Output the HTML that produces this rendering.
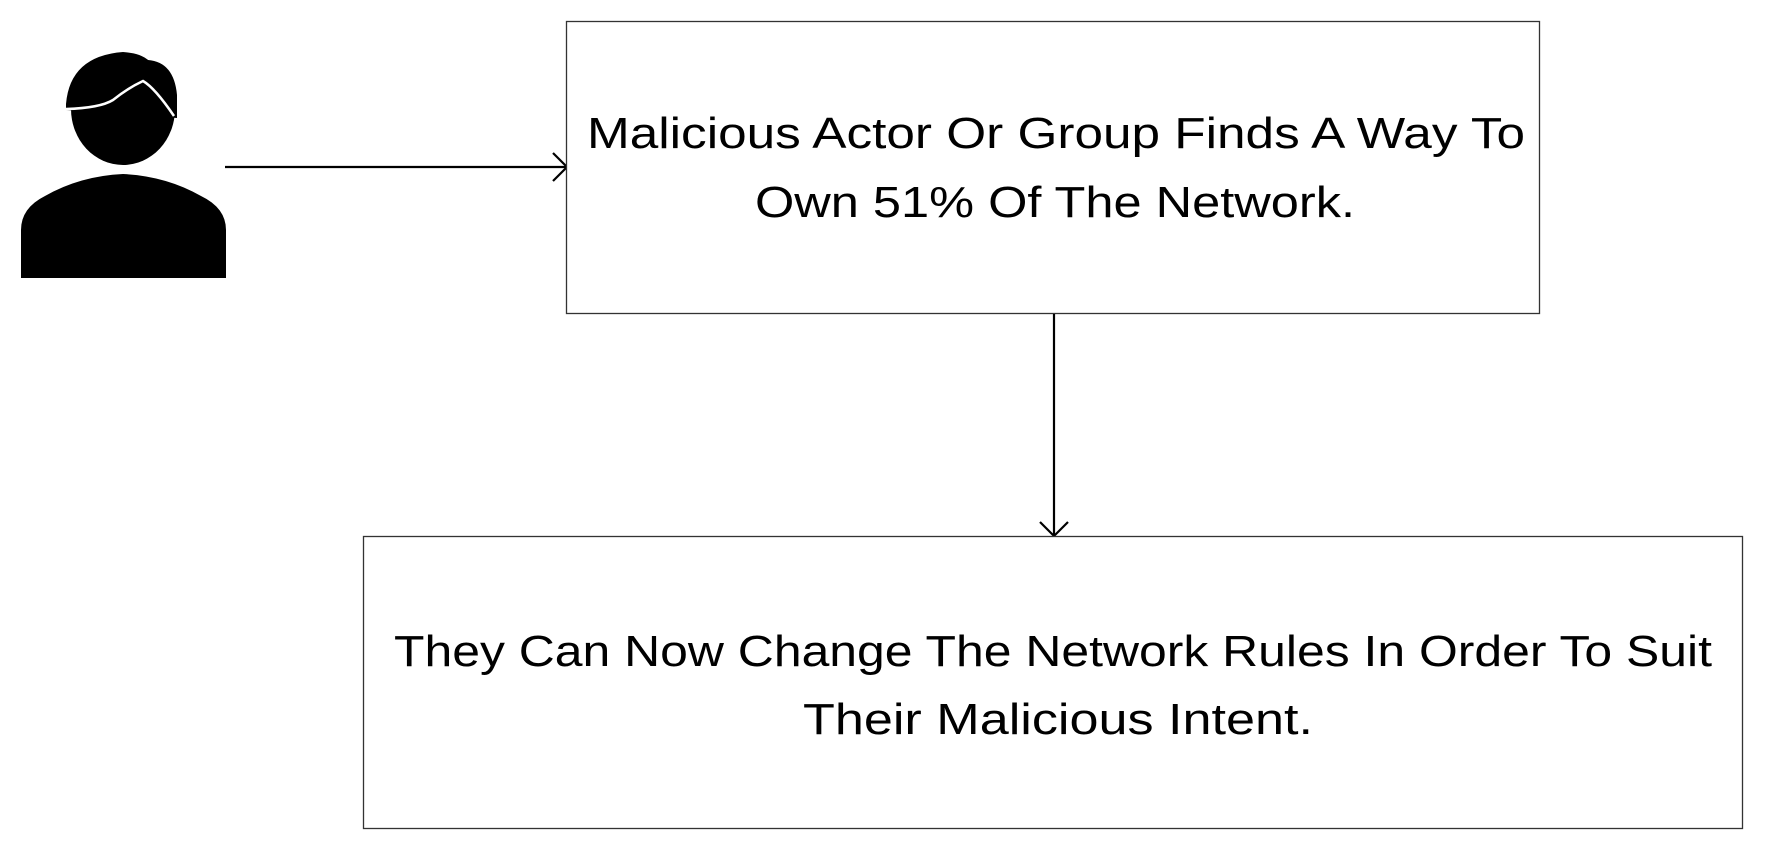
<!DOCTYPE html>
<html><head><meta charset="utf-8"><style>
html,body{margin:0;padding:0;background:#fff;}
svg{display:block;}
text{font-family:"Liberation Sans",sans-serif;fill:#000;}
</style></head><body>
<svg width="1775" height="850" viewBox="0 0 1775 850" xmlns="http://www.w3.org/2000/svg">
<!-- person -->
<path d="M21 278 L21 230 Q21 208 45 196 Q80 176 123 174 Q166 176 201 196 Q226 208 226 230 L226 278 Z" fill="#000"/>
<ellipse cx="123" cy="109" rx="52" ry="56" fill="#000"/>
<path d="M66 104 Q70 56 123 52 Q140 53 148 60 Q174 62 177 95 L177 118 L66 110 Z" fill="#000"/>
<path d="M66 109 Q100 108 113 100 Q128 88 143 81 Q155 88 174 116" fill="none" stroke="#fff" stroke-width="2.5"/>
<!-- arrow 1 -->
<line x1="225" y1="167" x2="567" y2="167" stroke="#000" stroke-width="2.2"/>
<path d="M553 153 L567 167 L553 181" fill="none" stroke="#000" stroke-width="2.2"/>
<!-- box 1 -->
<rect x="566.5" y="21.5" width="973" height="292" fill="#fff" stroke="#333" stroke-width="1.3"/>
<text x="1056" y="148" font-size="44" text-anchor="middle" textLength="938" lengthAdjust="spacingAndGlyphs">Malicious Actor Or Group Finds A Way To</text>
<text x="1055" y="217" font-size="44" text-anchor="middle" textLength="600" lengthAdjust="spacingAndGlyphs">Own 51% Of The Network.</text>
<!-- arrow 2 -->
<line x1="1054" y1="314" x2="1054" y2="536" stroke="#000" stroke-width="2.2"/>
<path d="M1040 522 L1054 536 L1068 522" fill="none" stroke="#000" stroke-width="2.2"/>
<!-- box 2 -->
<rect x="363.5" y="536.5" width="1379" height="292" fill="#fff" stroke="#333" stroke-width="1.3"/>
<text x="1053" y="666" font-size="44" text-anchor="middle" textLength="1318" lengthAdjust="spacingAndGlyphs">They Can Now Change The Network Rules In Order To Suit</text>
<text x="1058" y="734" font-size="44" text-anchor="middle" textLength="510" lengthAdjust="spacingAndGlyphs">Their Malicious Intent.</text>
</svg>
</body></html>
